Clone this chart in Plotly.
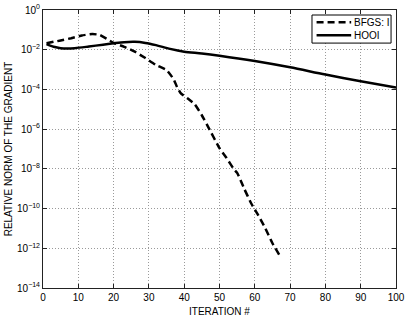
import plotly.graph_objects as go

# BFGS: I
bfgs_iter = [1, 3, 5, 8, 11, 14, 16, 18, 20, 23, 26, 29, 32, 35, 37, 38, 39, 41, 43,
             45, 47, 50, 52, 54, 55, 57, 59, 61, 63, 65, 67]
bfgs_val = [2.1e-2, 2.5e-2, 2.9e-2, 3.8e-2, 5.2e-2, 6.2e-2, 5.6e-2, 3.6e-2, 2.2e-2,
            1.4e-2, 8.0e-3, 3.8e-3, 1.7e-3, 9.5e-4, 3.3e-4, 1.3e-4, 6.5e-5, 3.5e-5,
            1.8e-5, 5.0e-6, 1.1e-6, 1.1e-7, 3.5e-8, 1.0e-8, 6.3e-9, 1.0e-9, 1.8e-10,
            4.5e-11, 1.0e-11, 1.8e-12, 4.5e-13]

# HOOI
hooi_iter = [1, 3, 5, 9, 13, 17, 20, 23, 26, 29, 32, 36, 40, 45, 50, 60, 70, 80, 90, 100]
hooi_val = [1.9e-2, 1.4e-2, 1.2e-2, 1.2e-2, 1.45e-2, 1.8e-2, 2.1e-2, 2.4e-2, 2.5e-2,
            2.2e-2, 1.7e-2, 1.1e-2, 8.0e-3, 6.5e-3, 5.0e-3, 2.7e-3, 1.3e-3, 5.6e-4,
            2.6e-4, 1.26e-4]

series_names = ["BFGS: I", "HOOI"]
x_title = "ITERATION #"
y_title = "RELATIVE NORM OF THE GRADIENT"
x_ticks = list(range(0, 101, 10))
y_exps = [0, -2, -4, -6, -8, -10, -12, -14]
y_tickvals = [10.0 ** e for e in y_exps]
y_ticktext = ["10<sup>%s</sup>" % (str(e).replace("-", "\u2212")) for e in y_exps]

FONT = "Liberation Sans, Arial, sans-serif"
DASH = "7px,4px"

fig = go.Figure()
fig.add_trace(go.Scatter(
    x=bfgs_iter, y=bfgs_val, mode="lines", name=series_names[0], showlegend=False,
    line=dict(color="black", width=2.5, dash=DASH, shape="spline", smoothing=0.4),
))
fig.add_trace(go.Scatter(
    x=hooi_iter, y=hooi_val, mode="lines", name=series_names[1], showlegend=False,
    line=dict(color="black", width=2.5, shape="spline", smoothing=0.8),
))

axis_common = dict(
    showline=True, linecolor="#222222", linewidth=1, mirror="ticks",
    ticks="inside", ticklen=4, tickcolor="#222222",
    showgrid=True, gridcolor="#9a9a9a", griddash="1px,2px", gridwidth=1,
    zeroline=False, automargin=False,
    tickfont=dict(family=FONT, size=10, color="black"),
)

fig.update_xaxes(range=[0, 100], tickvals=x_ticks, **axis_common)
fig.update_yaxes(
    type="log", range=[-14, 0], tickvals=y_tickvals, ticktext=y_ticktext,
    title=dict(text=y_title, font=dict(family=FONT, size=10, color="black"), standoff=2),
    **axis_common,
)

# compact legend box (MATLAB style)
lg_x0, lg_x1, lg_y0, lg_y1 = 0.762, 0.986, 0.881, 0.982
samp_x0, samp_x1, text_x = 0.775, 0.873, 0.876
rows_y = [0.956, 0.909]
styles = [DASH, "solid"]
shapes = [dict(type="rect", xref="paper", yref="paper", x0=lg_x0, x1=lg_x1, y0=lg_y0, y1=lg_y1,
               line=dict(color="black", width=1), fillcolor="white", layer="above")]
annotations = []
for name, yy, st in zip(series_names, rows_y, styles):
    shapes.append(dict(type="line", xref="paper", yref="paper", x0=samp_x0, x1=samp_x1,
                       y0=yy, y1=yy, line=dict(color="black", width=2.5, dash=st), layer="above"))
    annotations.append(dict(xref="paper", yref="paper", x=text_x, y=yy, text=name,
                            showarrow=False, xanchor="left", yanchor="middle",
                            font=dict(family=FONT, size=10, color="black")))

# x-axis title placed below the tick labels
annotations.append(dict(xref="paper", yref="paper", x=0.5, y=-0.084, text=x_title,
                        showarrow=False, xanchor="center", yanchor="middle", borderpad=0,
                        font=dict(family=FONT, size=10, color="black")))

fig.update_layout(
    width=407, height=316,
    margin=dict(l=43, r=11, t=10, b=28),
    paper_bgcolor="white", plot_bgcolor="white",
    font=dict(family=FONT, size=10, color="black"),
    shapes=shapes, annotations=annotations, showlegend=False,
)

fig.write_html("out.html", config={"displayModeBar": False},
               post_script="document.body.style.margin='0';document.body.style.overflow='hidden';")
